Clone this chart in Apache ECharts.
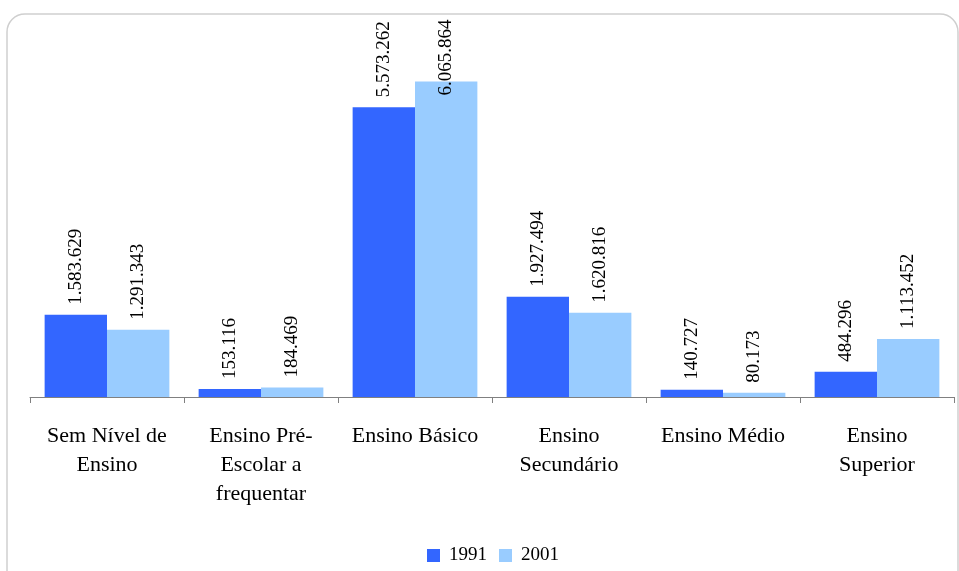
<!DOCTYPE html>
<html><head><meta charset="utf-8">
<script src="https://cdn.jsdelivr.net/npm/echarts@6/dist/echarts.min.js"></script>
<style>html,body{margin:0;padding:0;background:#fff}#c{width:959px;height:571px}</style>
</head><body><div id="c"></div>
<script>
const categories = ["Sem Nível de\nEnsino", "Ensino Pré-\nEscolar a\nfrequentar", "Ensino Básico", "Ensino\nSecundário", "Ensino Médio", "Ensino\nSuperior"];
const values1991 = [1583629, 153116, 5573262, 1927494, 140727, 484296];
const values2001 = [1291343, 184469, 6065864, 1620816, 80173, 1113452];
const seriesNames = ["1991", "2001"];

const fmt = v => String(v).replace(/\B(?=(\d{3})+(?!\d))/g, ".");
const font = "'Liberation Serif', 'Times New Roman', serif";
const chart = echarts.init(document.getElementById('c'), null, {renderer: 'canvas'});
const lbl = {show: true, position: 'top', rotate: 90, align: 'left', verticalAlign: 'middle', distance: 10,
  fontFamily: font, fontSize: 19, color: '#000', formatter: p => fmt(p.value)};
// labels that would leave the chart area are pulled down onto the bar, as in the original
const toData = arr => arr.map(v => v > 6000000 ? {value: v, label: {distance: -14}} : v);
chart.setOption({
  animation: false,
  graphic: [{type: 'rect', shape: {x: 7, y: 14, width: 951, height: 580, r: 18}, style: {fill: 'none', stroke: '#cfcfcf', lineWidth: 1.5}, z: -1}],
  grid: {left: 30, right: 5, top: 33, bottom: 174},
  legend: {top: 541, left: 422, itemWidth: 13, itemHeight: 13, itemGap: 12, icon: 'rect',
    textStyle: {fontFamily: font, fontSize: 19, color: '#000', padding: [0, 0, 0, 4]}, data: seriesNames},
  xAxis: {type: 'category', data: categories,
    axisLine: {lineStyle: {color: '#808080', width: 1}},
    axisTick: {show: true, length: 6, lineStyle: {color: '#808080'}},
    axisLabel: {fontFamily: font, fontSize: 22, color: '#000', lineHeight: 29, margin: 25, interval: 0}},
  yAxis: {type: 'value', min: 0, max: 7000000, show: false, splitLine: {show: false}},
  series: [
    {name: seriesNames[0], type: 'bar', data: toData(values1991), itemStyle: {color: '#3366FF'}, barGap: '0%', barCategoryGap: '19%', label: lbl},
    {name: seriesNames[1], type: 'bar', data: toData(values2001), itemStyle: {color: '#99CCFF'}, barGap: '0%', barCategoryGap: '19%', label: lbl}
  ]
});
</script></body></html>
